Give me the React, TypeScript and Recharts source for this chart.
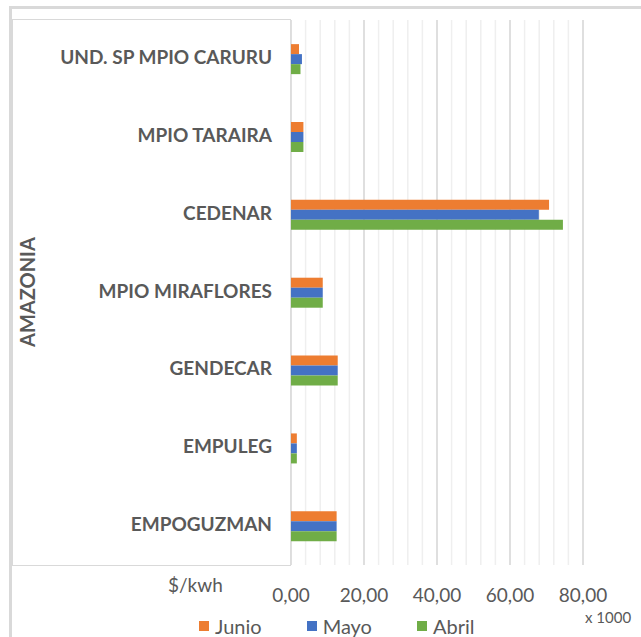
import React from "react";
import { BarChart, Bar, XAxis, YAxis, CartesianGrid, Legend, Label } from "recharts";

const empresas = [
  "UND. SP MPIO CARURU",
  "MPIO TARAIRA",
  "CEDENAR",
  "MPIO MIRAFLORES",
  "GENDECAR",
  "EMPULEG",
  "EMPOGUZMAN",
];
// $/kwh, en miles (x 1000)
const junio = [2.2, 3.4, 70.7, 8.7, 12.8, 1.6, 12.5];
const mayo = [3.0, 3.4, 67.9, 8.7, 12.8, 1.6, 12.5];
const abril = [2.6, 3.4, 74.5, 8.7, 12.8, 1.6, 12.5];

const majorTicks = [0, 20, 40, 60, 80];
const minorTicks = [0, 4, 8, 12, 16, 20, 24, 28, 32, 36, 40, 44, 48, 52, 56, 60, 64, 68, 72, 76, 80];

const series = [
  { key: "Junio", values: junio, color: "#ED7D31" },
  { key: "Mayo", values: mayo, color: "#4472C4" },
  { key: "Abril", values: abril, color: "#70AD47" },
];

const data = empresas.map((name, i) => ({
  name,
  Junio: junio[i],
  Mayo: mayo[i],
  Abril: abril[i],
}));

const GRAY = "#595959";
const FONT = "Lato, 'Open Sans', sans-serif";

const fmt = (v: number) => v.toFixed(2).replace(".", ",");

const scaleOf = (axis: any) => (v: number) => {
  const s = axis?.scale;
  if (!s) return 0;
  return typeof s === "function" ? s(v) : s.map(v);
};

const CatTick = (props: any) => {
  const { x, y, payload } = props;
  return (
    <text x={x - 19} y={y} dy={5} textAnchor="end" fontFamily={FONT} fontWeight={700} fontSize={19} fill={GRAY}>
      {payload.value}
    </text>
  );
};

const ValTick = (props: any) => {
  const { x, y, payload } = props;
  return (
    <text x={x} y={y} dy={37} textAnchor="middle" fontFamily={FONT} fontSize={19} fill={GRAY}>
      {fmt(payload.value)}
    </text>
  );
};

const LegendBox = () => (
  <div style={{ display: "flex", gap: 45, paddingLeft: 199, fontFamily: FONT, fontSize: 20, color: GRAY }}>
    {series.map((s) => (
      <div key={s.key} style={{ display: "flex", alignItems: "center" }}>
        <span style={{ width: 10, height: 10, background: s.color, marginRight: 6, display: "inline-block" }} />
        <span>{s.key}</span>
      </div>
    ))}
  </div>
);

export default function App() {
  return (
    <div style={{ position: "absolute", left: 0, top: 0, width: 641, height: 637, background: "#fff", overflow: "hidden" }}>
      {/* marco exterior */}
      <div
        style={{
          position: "absolute",
          left: 9,
          top: 6,
          width: 700,
          height: 700,
          borderLeft: "3px solid #d9d9d9",
          borderTop: "3px solid #d9d9d9",
        }}
      />
      {/* caja de la agrupacion */}
      <div
        style={{
          position: "absolute",
          left: 12,
          top: 19,
          width: 277,
          height: 545,
          border: "1.5px solid #d9d9d9",
        }}
      />
      <div style={{ position: "absolute", left: 0, top: 0 }}>
        <BarChart
          width={641}
          height={637}
          layout="vertical"
          data={data}
          margin={{ top: 20, right: 58, bottom: 0, left: 0 }}
          barGap={0}
          barCategoryGap="31%"
        >
          <CartesianGrid
            horizontal={false}
            stroke="#efefef"
            strokeWidth={1.5}
            verticalCoordinatesGenerator={({ xAxis }: any) => minorTicks.map(scaleOf(xAxis))}
          />
          <CartesianGrid horizontal={false} stroke="#d9d9d9" strokeWidth={1.5} />
          <XAxis
            type="number"
            domain={[0, 80]}
            ticks={majorTicks}
            height={72}
            axisLine={false}
            tickLine={false}
            tickSize={0}
            tickMargin={0}
            tick={<ValTick />}
            interval={0}
          >
            <Label
              content={() => (
                <g>
                  <text x={168} y={592} fontFamily={FONT} fontSize={19} fill={GRAY}>
                    $/kwh
                  </text>
                  <text x={585} y={623} fontFamily={FONT} fontSize={15} fill={GRAY}>
                    x 1000
                  </text>
                </g>
              )}
            />
          </XAxis>
          <YAxis
            type="category"
            dataKey="name"
            width={291}
            axisLine={false}
            tickLine={false}
            tickSize={0}
            tickMargin={0}
            tick={<CatTick />}
            interval={0}
          >
            <Label
              content={() => (
                <text
                  x={35}
                  y={292}
                  transform="rotate(-90, 35, 292)"
                  textAnchor="middle"
                  fontFamily={FONT}
                  fontWeight={700}
                  fontSize={20}
                  fill={GRAY}
                >
                  AMAZONIA
                </text>
              )}
            />
          </YAxis>
          {series.map((s) => (
            <Bar key={s.key} dataKey={s.key} fill={s.color} isAnimationActive={false} />
          ))}
          <Legend
            layout="horizontal"
            verticalAlign="middle"
            align="center"
            wrapperStyle={{ position: "absolute", left: 0, top: 614, width: 641 }}
            content={() => <LegendBox />}
          />
        </BarChart>
      </div>
    </div>
  );
}
